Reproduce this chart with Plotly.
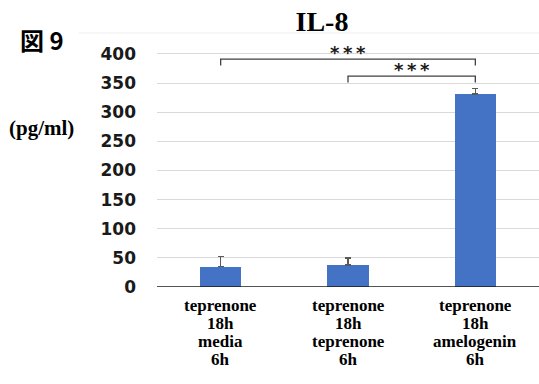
import plotly.graph_objects as go

categories = ["c0", "c1", "c2"]
label_lines = [
    ["teprenone", "18h", "media", "6h"],
    ["teprenone", "18h", "teprenone", "6h"],
    ["teprenone", "18h", "amelogenin", "6h"],
]
values = [35, 38, 331]
errors_up = [17, 12, 10]
y_ticks = [0, 50, 100, 150, 200, 250, 300, 350, 400]
sig_pairs = [(0, 2, 391, "*\u2009*\u2009*"), (1, 2, 362, "*\u2009*\u2009*")]

BAR = "#4472C4"
fig = go.Figure()
fig.add_trace(go.Bar(
    x=[0, 1, 2], y=values, width=0.325, marker=dict(color=BAR, line=dict(width=0)),
    error_y=dict(type="data", symmetric=False, array=errors_up, arrayminus=[0, 0, 0],
                 color="#595959", thickness=1.5, width=3),
    cliponaxis=False,
))

shapes = []
shapes.append(dict(type="line", xref="paper", yref="y", x0=0, x1=1, y0=0, y1=0,
                   line=dict(color="#1a1a1a", width=1.5)))
shapes.append(dict(type="line", xref="paper", yref="paper", x0=-0.205, x1=1, y0=1, y1=1,
                   line=dict(color="#eeeeee", width=1)))
annotations = []
for (a, b, yv, txt) in sig_pairs:
    drop = 11
    shapes.append(dict(type="path", xref="x", yref="y",
                       path=f"M {a},{yv-drop} L {a},{yv} L {b},{yv} L {b},{yv-drop}",
                       line=dict(color="#404040", width=1.3)))
    annotations.append(dict(x=(a + b) / 2, y=yv, xref="x", yref="y", text=txt,
                            showarrow=False, yanchor="middle", yshift=7,
                            font=dict(family="DejaVu Sans", size=18, color="#1a1a1a", weight="bold")))

line_px = [306.5, 324.5, 342.5, 360.5]
for i, lines in enumerate(label_lines):
    for j, t in enumerate(lines):
        annotations.append(dict(x=i, y=0, xref="x", yref="paper", text=f"<b>{t}</b>",
                                showarrow=False, yanchor="middle",
                                yshift=-(line_px[j] - 287) + 1,
                                font=dict(family="Liberation Serif", size=17, color="#000000")))

annotations.append(dict(xref="paper", yref="paper", x=(18 - 157) / 382, y=(287 - 40) / 254,
                        text="図 9", showarrow=False, xanchor="left", yanchor="middle",
                        font=dict(family="Noto Sans CJK JP", size=24, color="#000000", weight="bold")))
annotations.append(dict(xref="paper", yref="paper", x=(41 - 157) / 382, y=(287 - 128) / 254,
                        text="<b>(pg/ml)</b>", showarrow=False, xanchor="center", yanchor="middle",
                        font=dict(family="Liberation Serif", size=21, color="#000000")))

fig.update_layout(
    width=539, height=384,
    margin=dict(l=157, r=0, t=33, b=97),
    paper_bgcolor="white", plot_bgcolor="white",
    showlegend=False,
    title=dict(text="<b>IL-8</b>", x=322 / 539, xanchor="center", xref="container",
               y=1 - 21 / 384, yanchor="middle",
               font=dict(family="Liberation Serif", size=28, color="#000000")),
    shapes=shapes, annotations=annotations,
    bargap=0,
)
fig.update_xaxes(range=[-0.5, 2.5], showticklabels=False, showgrid=False, zeroline=False,
                 showline=False, ticks="")
fig.update_yaxes(range=[0, 436], tickvals=y_ticks, showgrid=True, gridcolor="#d9d9d9",
                 gridwidth=1, zeroline=False, showline=False, ticks="",
                 ticklabelstandoff=20,
                 tickfont=dict(family="DejaVu Sans", size=17, color="#1a1a1a", weight="bold"))

fig.write_html("out.html")
